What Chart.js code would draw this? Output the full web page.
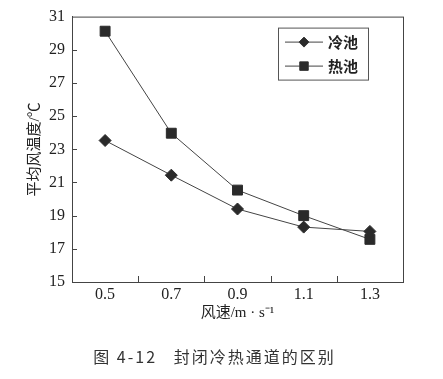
<!DOCTYPE html>
<html><head><meta charset="utf-8">
<script src="https://cdn.jsdelivr.net/npm/chart.js@4"></script>
<style>
html,body{margin:0;padding:0;background:#fff;}
#wrap{position:relative;width:443px;height:379px;}
#cap{position:absolute;left:0;width:429px;top:344px;text-align:center;font:16px "Noto Sans CJK SC";color:#333;letter-spacing:2px;white-space:pre;}
</style></head><body>
<div id="wrap"><canvas id="c" width="443" height="379"></canvas><div id="cap">图 4-12   封闭冷热通道的区别</div></div>
<script>
const windSpeeds = [0.5, 0.7, 0.9, 1.1, 1.3];
const coldPool = [23.53, 21.44, 19.40, 18.31, 18.05];
const hotPool = [30.12, 23.97, 20.54, 19.00, 17.57];
const seriesNames = ['冷池', '热池'];
const xTitle = '风速/m · s⁻¹';
const yTitle = '平均风温度/℃';
const yMin = 15, yMax = 31, yStep = 2;
const xMin = 0.4, xMax = 1.4;

const serif = '"Liberation Serif", "Noto Sans CJK SC", serif';
const ink = '#2a2a2a';

const frame = {
  id: 'frame',
  afterDraw(chart) {
    const {ctx, chartArea: a, scales} = chart;
    ctx.save();
    ctx.strokeStyle = '#444';
    ctx.lineWidth = 1;
    ctx.strokeRect(a.left + 0.5, a.top + 0.5, a.right - a.left, a.bottom - a.top);
    // inward ticks
    ctx.beginPath();
    scales.y.ticks.forEach(t => {
      if (t.value <= yMin || t.value >= yMax) return;
      const py = Math.round(scales.y.getPixelForValue(t.value)) + 0.5;
      ctx.moveTo(a.left, py); ctx.lineTo(a.left + 5, py);
    });
    scales.x.ticks.forEach(t => {
      const k = Math.round(t.value * 10);
      if (k % 2 !== 0 || t.value <= xMin + 1e-9 || t.value >= xMax - 1e-9) return;
      const px = Math.round(scales.x.getPixelForValue(t.value)) + 0.5;
      ctx.moveTo(px, a.bottom); ctx.lineTo(px, a.bottom - 6);
    });
    ctx.stroke();
    // legend
    const bx = a.right - 125, by = a.top + 11, bw = 90, bh = 52;
    ctx.fillStyle = '#fff';
    ctx.fillRect(bx, by, bw, bh);
    ctx.strokeStyle = '#555';
    ctx.strokeRect(bx + 0.5, by + 0.5, bw, bh);
    chart.data.datasets.forEach((ds, i) => {
      const ly = by + 14 + i * 24;
      ctx.strokeStyle = ds.borderColor; ctx.lineWidth = 1;
      ctx.beginPath(); ctx.moveTo(bx + 7, ly + 0.5); ctx.lineTo(bx + 45, ly + 0.5); ctx.stroke();
      Chart.helpers.drawPoint(ctx, {pointStyle: ds.pointStyle, radius: ds.pointRadius - 1, borderWidth: 1}, bx + 26, ly + 0.5);
      ctx.fillStyle = ds.pointBackgroundColor;
      ctx.fill();
      ctx.fillStyle = '#222';
      ctx.font = 'bold 15px "Noto Sans CJK SC"';
      ctx.textBaseline = 'middle';
      ctx.fillText(ds.label, bx + 50, ly + 1);
    });
    ctx.restore();
  }
};

new Chart(document.getElementById('c'), {
  type: 'line',
  data: {
    datasets: [
      {label: seriesNames[0], data: windSpeeds.map((x, i) => ({x, y: coldPool[i]})),
       borderColor: '#444', borderWidth: 1, pointStyle: 'rectRot', pointRadius: 6,
       pointBackgroundColor: ink, pointBorderColor: ink, pointBorderWidth: 1},
      {label: seriesNames[1], data: windSpeeds.map((x, i) => ({x, y: hotPool[i]})),
       borderColor: '#444', borderWidth: 1, pointStyle: 'rect', pointRadius: 7,
       pointBackgroundColor: ink, pointBorderColor: ink, pointBorderWidth: 1}
    ]
  },
  options: {
    responsive: false, animation: false,
    layout: {padding: {top: 14, right: 40, left: 0, bottom: 0}},
    plugins: {legend: {display: false}, tooltip: {enabled: false}},
    scales: {
      x: {
        type: 'linear', min: xMin, max: xMax,
        afterFit(s) { s.height = 97; },
        grid: {display: false, drawTicks: false},
        border: {display: true, color: '#444'},
        ticks: {
          stepSize: 0.1, autoSkip: false, padding: 3, color: '#222',
          font: {family: serif, size: 16},
          callback: v => (Math.round(v * 10) % 2 === 1 ? v.toFixed(1) : '')
        },
        title: {display: true, text: xTitle, color: '#222', font: {family: serif, size: 15}, padding: {top: 0, bottom: 57}}
      },
      y: {
        min: yMin, max: yMax,
        afterFit(s) { s.width = 72; },
        grid: {display: false, drawTicks: false},
        border: {display: true, color: '#444'},
        ticks: {stepSize: yStep, padding: 7, color: '#222', font: {family: serif, size: 16}},
        title: {display: true, text: yTitle, color: '#222', font: {family: serif, size: 15}, padding: {top: 26, bottom: 0}}
      }
    }
  },
  plugins: [frame]
});
</script>
</body></html>
